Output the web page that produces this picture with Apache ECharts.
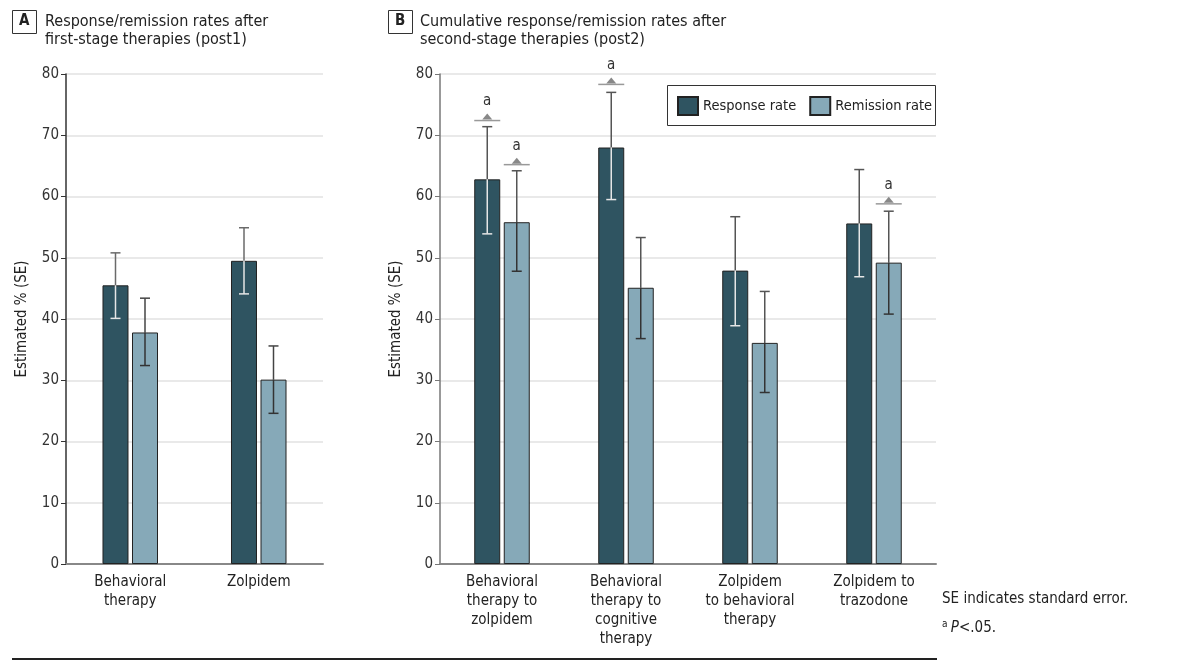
<!DOCTYPE html>
<html>
<head>
<meta charset="utf-8">
<script src="https://cdn.jsdelivr.net/npm/echarts@6/dist/echarts.min.js"></script>
<style>
html,body{margin:0;padding:0;background:#fff;}
#chart{width:1178px;height:669px;}
</style>
</head>
<body>
<div id="chart"></div>
<script>
// ---------- DATA ----------
const yTicks = [0, 10, 20, 30, 40, 50, 60, 70, 80];
const seriesNames = ['Response rate', 'Remission rate'];

// Panel A (post1)
const catsA = ['Behavioral\ntherapy', 'Zolpidem'];
const respA = [45.5, 49.5];
const respALow = [40.1, 44.1];
const respAHigh = [50.8, 54.9];
const remA = [37.8, 30.1];
const remALow = [32.4, 24.6];
const remAHigh = [43.4, 35.6];

// Panel B (post2)
const catsB = ['Behavioral\ntherapy to\nzolpidem', 'Behavioral\ntherapy to\ncognitive\ntherapy', 'Zolpidem\nto behavioral\ntherapy', 'Zolpidem to\ntrazodone'];
const respB = [62.8, 68.0, 47.9, 55.6];
const respBLow = [53.9, 59.5, 38.9, 46.9];
const respBHigh = [71.4, 77.0, 56.7, 64.4];
const remB = [55.8, 45.1, 36.1, 49.2];
const remBLow = [47.8, 36.8, 28.0, 40.8];
const remBHigh = [64.2, 53.3, 44.5, 57.6];

// Significance markers (panel B): category index, series index (0 response, 1 remission), level
const sigCat = [0, 0, 1, 3];
const sigSeries = [0, 1, 0, 1];
const sigLevel = [72.4, 65.2, 78.3, 58.8];
const sigLabel = 'a';

// ---------- STYLE ----------
const FONT = "'Liberation Sans Narrow', 'DejaVu Sans Condensed', 'Roboto', sans-serif";
const DARK = '#2f5461';
const LIGHT = '#86a9b8';
const BAR_W = 26;
const OFFSET = 14.75;

const chart = echarts.init(document.getElementById('chart'), null, {renderer: 'canvas'});

function errRender(side, outerColor, innerColor) {
  return function (params, api) {
    const c = api.value(0);
    const v = api.coord([c, api.value(1)]);
    const lo = api.coord([c, api.value(2)]);
    const hi = api.coord([c, api.value(3)]);
    const x = v[0] + side * OFFSET;
    const cap = 5;
    return {
      type: 'group',
      children: [
        {type: 'line', shape: {x1: x, y1: hi[1], x2: x, y2: v[1]}, style: {stroke: outerColor, lineWidth: 1.5}},
        {type: 'line', shape: {x1: x - cap, y1: hi[1], x2: x + cap, y2: hi[1]}, style: {stroke: outerColor, lineWidth: 1.5}},
        {type: 'line', shape: {x1: x, y1: v[1], x2: x, y2: lo[1]}, style: {stroke: innerColor, lineWidth: 1.5}},
        {type: 'line', shape: {x1: x - cap, y1: lo[1], x2: x + cap, y2: lo[1]}, style: {stroke: innerColor, lineWidth: 1.5}}
      ]
    };
  };
}

function sigRender(params, api) {
  const c = api.value(0);
  const s = api.value(1);
  const p = api.coord([c, api.value(2)]);
  const x = p[0] + (s === 0 ? -OFFSET : OFFSET);
  const y = p[1];
  return {
    type: 'group',
    children: [
      {type: 'line', shape: {x1: x - 13, y1: y, x2: x + 13, y2: y}, style: {stroke: '#999', lineWidth: 1.5}},
      {type: 'polygon', shape: {points: [[x - 5, y - 1], [x + 5, y - 1], [x, y - 7]]}, style: {fill: '#888'}},
      {type: 'text', style: {text: sigLabel, x: x, y: y - 19, align: 'center', verticalAlign: 'middle', font: '15px ' + FONT, fill: '#333'}}
    ]
  };
}

function mkErr(cats, vals, lows, highs) {
  return cats.map((_, i) => [i, vals[i], lows[i], highs[i]]);
}

const yAxisBase = (lineColor) => ({
  type: 'value', min: 0, max: 80, interval: 10,
  name: 'Estimated % (SE)', nameLocation: 'middle', nameGap: 36,
  nameTextStyle: {fontFamily: FONT, fontSize: 15, color: '#222'},
  axisLine: {show: true, lineStyle: {color: lineColor, width: 1.5}},
  axisTick: {show: true, length: 5, lineStyle: {color: lineColor}},
  axisLabel: {fontFamily: FONT, fontSize: 15, color: '#333', margin: 7,
    formatter: (v) => yTicks.indexOf(v) >= 0 ? String(v) : ''},
  splitLine: {show: true, lineStyle: {color: '#e2e2e2', width: 1.5}}
});

const xAxisBase = (cats) => ({
  type: 'category', data: cats,
  axisLine: {show: true, lineStyle: {color: '#888', width: 2}},
  axisTick: {show: false},
  axisLabel: {interval: 0, fontFamily: FONT, fontSize: 15, color: '#222', lineHeight: 19, margin: 9}
});

const barStyle = (color) => ({color: color, borderColor: '#222', borderWidth: 1});

const option = {
  animation: false,
  backgroundColor: '#fff',
  grid: [
    {left: 66, right: 1178 - 323, top: 74, bottom: 669 - 564},
    {left: 440, right: 1178 - 936, top: 74, bottom: 669 - 564}
  ],
  xAxis: [
    Object.assign(xAxisBase(catsA), {gridIndex: 0}),
    Object.assign(xAxisBase(catsB), {gridIndex: 1})
  ],
  yAxis: [
    Object.assign(yAxisBase('#333'), {gridIndex: 0}),
    Object.assign(yAxisBase('#777'), {gridIndex: 1})
  ],
  legend: {
    data: seriesNames,
    left: 677, top: 96, padding: 0,
    itemWidth: 20, itemHeight: 18, itemGap: 13,
    icon: 'rect',
    textStyle: {fontFamily: FONT, fontSize: 14.5, color: '#222'}
  },
  series: [
    {name: seriesNames[0], type: 'bar', xAxisIndex: 0, yAxisIndex: 0, data: respA, barWidth: BAR_W, barGap: '13.5%', itemStyle: barStyle(DARK)},
    {name: seriesNames[1], type: 'bar', xAxisIndex: 0, yAxisIndex: 0, data: remA, barWidth: BAR_W, barGap: '13.5%', itemStyle: barStyle(LIGHT)},
    {name: seriesNames[0], type: 'bar', xAxisIndex: 1, yAxisIndex: 1, data: respB, barWidth: BAR_W, barGap: '13.5%', itemStyle: barStyle(DARK)},
    {name: seriesNames[1], type: 'bar', xAxisIndex: 1, yAxisIndex: 1, data: remB, barWidth: BAR_W, barGap: '13.5%', itemStyle: barStyle(LIGHT)},
    {type: 'custom', xAxisIndex: 0, yAxisIndex: 0, z: 5, renderItem: errRender(-1, '#6a6a6a', '#e6e6e6'), data: mkErr(catsA, respA, respALow, respAHigh)},
    {type: 'custom', xAxisIndex: 0, yAxisIndex: 0, z: 5, renderItem: errRender(1, '#444', '#333'), data: mkErr(catsA, remA, remALow, remAHigh)},
    {type: 'custom', xAxisIndex: 1, yAxisIndex: 1, z: 5, renderItem: errRender(-1, '#555', '#e6e6e6'), data: mkErr(catsB, respB, respBLow, respBHigh)},
    {type: 'custom', xAxisIndex: 1, yAxisIndex: 1, z: 5, renderItem: errRender(1, '#555', '#333'), data: mkErr(catsB, remB, remBLow, remBHigh)},
    {type: 'custom', xAxisIndex: 1, yAxisIndex: 1, z: 6, renderItem: sigRender, data: sigCat.map((c, i) => [c, sigSeries[i], sigLevel[i]])}
  ],
  graphic: [
    // Panel A title
    {type: 'rect', left: 12, top: 10, shape: {width: 24, height: 23}, style: {fill: '#fff', stroke: '#333', lineWidth: 1}},
    {type: 'text', left: 19, top: 14, style: {text: 'A', font: 'bold 15px ' + FONT, fill: '#222'}},
    {type: 'text', left: 45, top: 13, style: {text: 'Response/remission rates after\nfirst-stage therapies (post1)', font: '16px ' + FONT, lineHeight: 18, fill: '#222'}},
    // Panel B title
    {type: 'rect', left: 388, top: 10, shape: {width: 24, height: 23}, style: {fill: '#fff', stroke: '#333', lineWidth: 1}},
    {type: 'text', left: 395, top: 14, style: {text: 'B', font: 'bold 15px ' + FONT, fill: '#222'}},
    {type: 'text', left: 420, top: 13, style: {text: 'Cumulative response/remission rates after\nsecond-stage therapies (post2)', font: '16px ' + FONT, lineHeight: 18, fill: '#222'}},
    // Legend box
    {type: 'rect', left: 667, top: 85, z: 10, shape: {width: 268, height: 40}, style: {fill: 'transparent', stroke: '#333', lineWidth: 1}},
    // Bottom rule
    {type: 'rect', left: 12, top: 658, shape: {width: 925, height: 2}, style: {fill: '#222'}},
    // Footnotes
    {type: 'text', left: 942, top: 592, style: {text: 'SE indicates standard error.', font: '15px ' + FONT, fill: '#222'}},
    {type: 'text', left: 942, top: 619, style: {
      text: '{sup|a} {it|P}{n|<.05.}',
      rich: {
        sup: {fontFamily: FONT, fontSize: 10, verticalAlign: 'top', padding: [0, 0, 8, 0], fill: '#222'},
        it: {fontFamily: FONT, fontSize: 15, fontStyle: 'italic', fill: '#222'},
        n: {fontFamily: FONT, fontSize: 15, fill: '#222'}
      }
    }}
  ]
};
chart.setOption(option);
</script>
</body>
</html>
